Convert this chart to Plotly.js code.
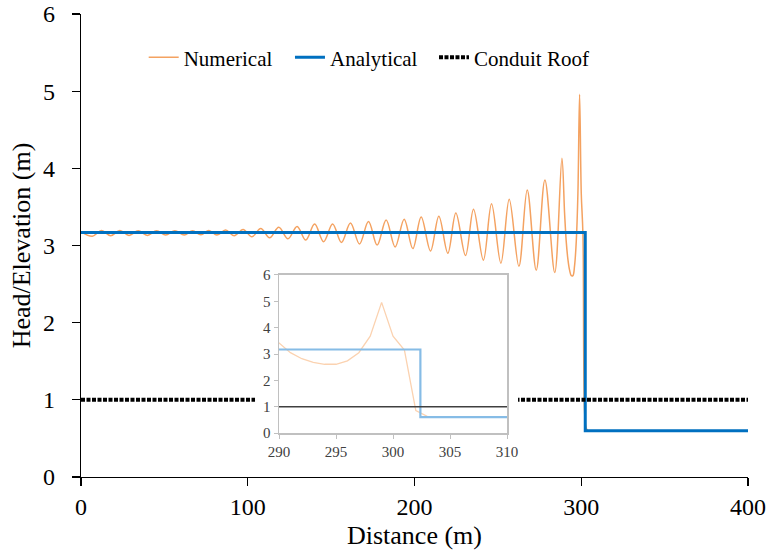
<!DOCTYPE html>
<html>
<head>
<meta charset="utf-8">
<script src="https://cdn.plot.ly/plotly-3.0.1.min.js"></script>
<style>
  html, body { margin: 0; padding: 0; background: #fff; }
  #chart { width: 771px; height: 554px; }
</style>
</head>
<body>
<div id="chart"></div>
<script>
// Numerical head along the conduit (m): crests and troughs of the oscillation,
// then 1 m samples across the front near 300 m.
const numX = [0, 6.8, 12.3, 17.8, 23.3, 28.8, 34.3, 39.8, 45.3, 50.8, 56.3, 61.9, 66.9, 71.9,
  76.7, 81.5, 86.7, 91.9, 97.2, 102.5, 107.8, 113.1, 118.6, 124.1, 129.6, 134.8, 140.1,
  145.5, 150.9, 156.2, 161.6, 167.0, 172.4, 177.6, 183.0, 188.4, 193.8, 199.0, 204.0,
  209.6, 214.6, 220.0, 224.8, 230.6, 235.4, 241.3, 246.2, 251.8, 256.8, 262.6, 267.6,
  273.0, 278.2, 284.1, 288.4, 290, 291, 292, 293, 294, 295, 296, 297, 298, 299, 300,
  301, 302, 303, 304];
const numY = [3.18, 3.12, 3.195, 3.126, 3.195, 3.131, 3.19, 3.131, 3.19, 3.135, 3.19, 3.135, 3.19, 3.139,
  3.195, 3.135, 3.20, 3.126, 3.208, 3.113, 3.22, 3.10, 3.235, 3.087, 3.247, 3.07, 3.277,
  3.05, 3.28, 3.04, 3.29, 3.02, 3.31, 3.005, 3.33, 2.98, 3.34, 2.96, 3.37,
  2.93, 3.38, 2.90, 3.42, 2.87, 3.47, 2.81, 3.54, 2.77, 3.60, 2.73, 3.72,
  2.68, 3.85, 2.65, 4.13, 3.42, 3.05, 2.82, 2.68, 2.61, 2.61, 2.74, 3.05, 3.68, 4.96, 3.68,
  3.15, 0.85, 0.63, 0.60];

// Analytical solution: upstream head, jump at the front, downstream head
const anaX = [0, 302.4, 302.4, 400];
const anaY = [3.17, 3.17, 0.60, 0.60];

// Conduit roof elevation
const roofX = [0, 400];
const roofY = [1, 1];

// Axis ticks
const mainXTicks = [0, 100, 200, 300, 400];
const mainYTicks = [0, 1, 2, 3, 4, 5, 6];
const insetXTicks = [290, 295, 300, 305, 310];
const insetYTicks = [0, 1, 2, 3, 4, 5, 6];

const FONT = 'Liberation Serif';

const traces = [
  { x: numX, y: numY, name: 'Numerical', type: 'scatter', mode: 'lines', legend: 'legend',
    line: { color: '#F4A261', width: 1.5, shape: 'spline', smoothing: 1 } },
  { x: anaX, y: anaY, name: 'Analytical', type: 'scatter', mode: 'lines', legend: 'legend2',
    line: { color: '#0070C0', width: 3 } },
  { x: roofX, y: roofY, name: 'Conduit Roof', type: 'scatter', mode: 'lines', legend: 'legend3',
    line: { color: '#000000', width: 4, dash: '4px,1.5px' } },

  // white backing panel behind the zoomed view
  { x: [], y: [], xaxis: 'x2', yaxis: 'y2', type: 'scatter', mode: 'lines',
    showlegend: false, hoverinfo: 'skip' },

  // zoomed view of the front
  { x: numX, y: numY, xaxis: 'x3', yaxis: 'y3', type: 'scatter', mode: 'lines',
    showlegend: false, line: { color: '#FBD2B0', width: 1.3 } },
  { x: anaX, y: anaY, xaxis: 'x3', yaxis: 'y3', type: 'scatter', mode: 'lines',
    showlegend: false, line: { color: '#86BCE6', width: 2.2 } },
  { x: roofX, y: roofY, xaxis: 'x3', yaxis: 'y3', type: 'scatter', mode: 'lines',
    showlegend: false, line: { color: '#404040', width: 1.5 } }
];

const insetAxis = {
  showline: true, mirror: true, linecolor: '#C0C0C0', linewidth: 1.5,
  ticks: 'outside', ticklen: 4, tickcolor: '#C0C0C0', tickwidth: 1,
  showgrid: false, zeroline: false,
  tickfont: { family: FONT, size: 15, color: '#404040' }
};

function legendAt(x) {
  return {
    orientation: 'h', x: x, xanchor: 'left', y: 0.95, yanchor: 'top',
    font: { family: FONT, size: 21, color: '#000000' },
    bgcolor: 'rgba(0,0,0,0)', borderwidth: 0
  };
}

const layout = {
  width: 771, height: 554,
  margin: { l: 81, r: 23, t: 14, b: 77 },
  paper_bgcolor: '#ffffff', plot_bgcolor: '#ffffff',
  font: { family: FONT, color: '#000000' },
  showlegend: true,
  legend: legendAt(0.094),
  legend2: legendAt(0.3133),
  legend3: legendAt(0.5292),
  xaxis: {
    range: [0, 400], tickvals: mainXTicks, ticktext: mainXTicks.map(String),
    showline: true, linecolor: '#000000', linewidth: 1.3,
    ticks: 'outside', ticklen: 8, tickcolor: '#000000', tickwidth: 1.3,
    showgrid: false, zeroline: false,
    tickfont: { family: FONT, size: 24, color: '#000000' },
    title: { text: 'Distance (m)', font: { family: FONT, size: 26, color: '#000000' }, standoff: 6 }
  },
  yaxis: {
    range: [0, 6], tickvals: mainYTicks, ticktext: mainYTicks.map(String),
    showline: true, linecolor: '#000000', linewidth: 1.3,
    ticks: 'outside', ticklen: 8, tickcolor: '#000000', tickwidth: 1.3,
    showgrid: false, zeroline: false, ticklabelstandoff: 12,
    tickfont: { family: FONT, size: 24, color: '#000000' },
    title: { text: 'Head/Elevation (m)', font: { family: FONT, size: 26, color: '#000000' }, standoff: 4 }
  },
  xaxis2: { domain: [0.2609, 0.6552], anchor: 'y2', range: [0, 1], visible: false, fixedrange: true },
  yaxis2: { domain: [0.0432, 0.4557], anchor: 'x2', range: [0, 1], visible: false, fixedrange: true },
  xaxis3: Object.assign({}, insetAxis, {
    domain: [0.2969, 0.6387], anchor: 'y3', range: [290, 310],
    tickvals: insetXTicks, ticktext: insetXTicks.map(String)
  }),
  yaxis3: Object.assign({}, insetAxis, {
    domain: [0.0950, 0.4363], anchor: 'x3', range: [0, 6],
    tickvals: insetYTicks, ticktext: insetYTicks.map(String)
  })
};

Plotly.newPlot('chart', traces, layout, { displayModeBar: false, staticPlot: true });
</script>
</body>
</html>
